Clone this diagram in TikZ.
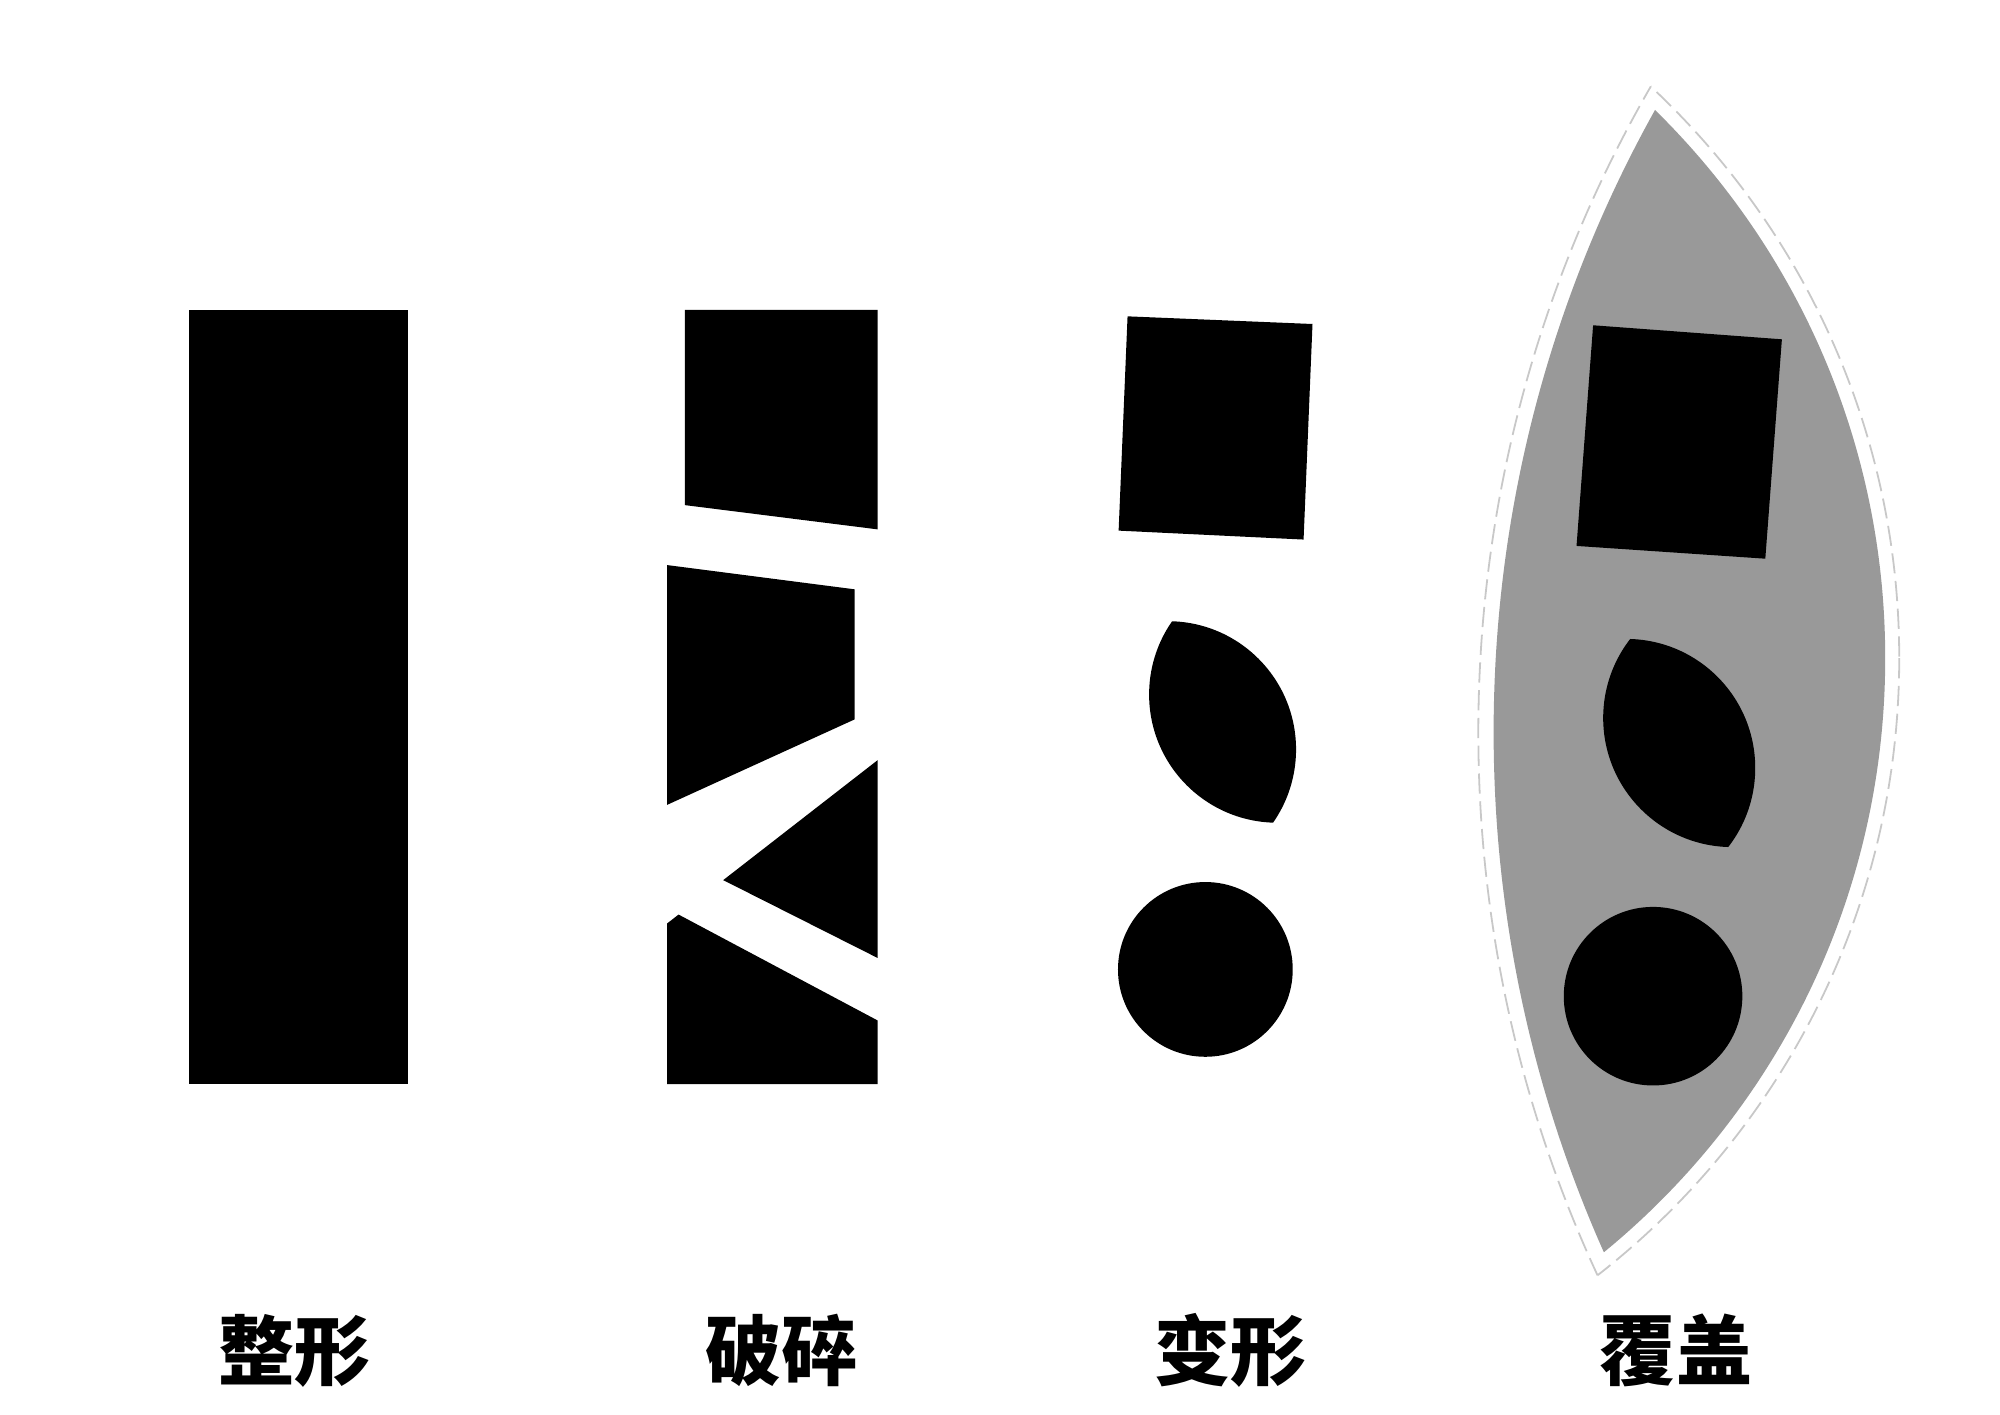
\documentclass[tikz,border=0pt]{standalone}
\usepackage{fontspec}
\newfontfamily\cjk{Noto Sans CJK SC}
\usepackage{xcolor}
\usepackage{tikz}

\definecolor{lensgray}{HTML}{999999}
\definecolor{dashgray}{HTML}{C8C8C8}

\begin{document}
\begin{tikzpicture}[x=0.1mm,y=-0.1mm,
	piece/.style={fill=black},
	outline/.style={draw=dashgray,line width=0.4pt,dash pattern=on 4.5pt off 1.7pt},
	shapename/.style={font=\cjk\bfseries\fontsize{17}{19}\selectfont,inner sep=0pt}]

\useasboundingbox (0,0) rectangle (1568,1109);

\def\LENS(#1)#2(#3)#4#5{%
	\begin{scope}
	\clip (#1) circle (#2); % first circle
	\fill[#5] (#3) circle (#4); % overlap with the second one
	\end{scope}
}

% whole block
\fill[piece] (148,243) rectangle (320,850);

% broken block
\fill[piece] (537,243) -- (688,243) -- (688,415) -- (537,396) -- cycle; % top
\fill[piece] (523,443) -- (670,462) -- (670,564) -- (523,631) -- cycle; % middle
\fill[piece] (688,596) -- (567,690) -- (688,751) -- cycle; % wedge
\fill[piece] (523,724) -- (532,717) -- (688,800) -- (688,850) -- (523,850) -- cycle; % bottom

% deformed block
\fill[piece] (884,248) -- (1029,254) -- (1022,423) -- (877,416) -- cycle; % square
\LENS(1001.4,544.5){100.5}(915.6,587.5){100.5}{black} % leaf
\fill[piece] (945,760) circle (68.5); % disc

% covered block
\LENS(2173,574){1002}(876,516){602}{lensgray} % cover
\begin{scope}
\clip (2173,574) circle (1014);
\draw[outline] (876,516) circle (613); % right edge
\end{scope}
\begin{scope}
\clip (876,516) circle (613);
\draw[outline] (2173,574) circle (1014); % left edge
\end{scope}
\fill[piece] (1249,255) -- (1397,266) -- (1384,438) -- (1236,428) -- cycle; % square
\LENS(1358.1,562.9){101.2}(1274.9,602.1){101.2}{black} % leaf
\fill[piece] (1296,781) circle (70); % disc

% names
\node[shapename] (whole) at (231,1059) {整形};
\node[shapename] (broken) at (613,1059) {破碎};
\node[shapename] (deformed) at (965,1059) {变形};
\node[shapename] (covered) at (1314,1059) {覆盖};
\end{tikzpicture}
\end{document}
